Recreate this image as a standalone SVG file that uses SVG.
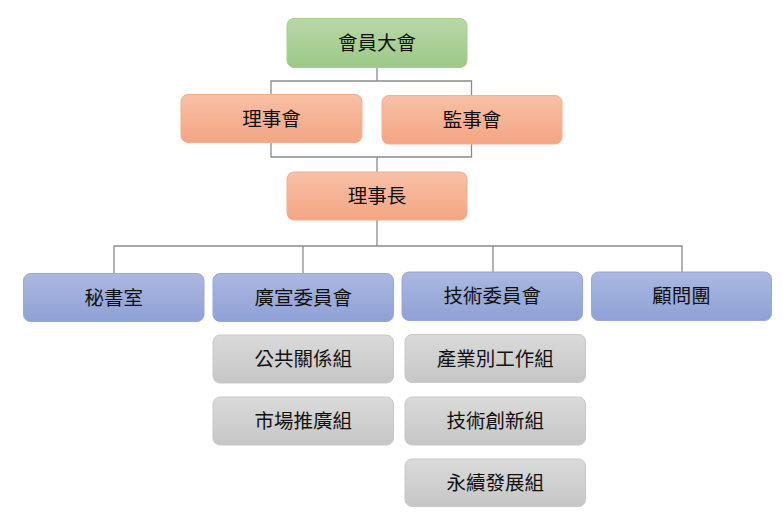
<svg xmlns="http://www.w3.org/2000/svg" width="783" height="519" viewBox="0 0 783 519">
<defs>
<linearGradient id="gGreen" x1="0" y1="0" x2="0" y2="1"><stop offset="0" stop-color="#b7d8a8"/><stop offset="1" stop-color="#9dc887"/></linearGradient>
<linearGradient id="gOrange" x1="0" y1="0" x2="0" y2="1"><stop offset="0" stop-color="#f8c0a6"/><stop offset="1" stop-color="#f4a583"/></linearGradient>
<linearGradient id="gBlue" x1="0" y1="0" x2="0" y2="1"><stop offset="0" stop-color="#abb8e0"/><stop offset="1" stop-color="#8ea1d6"/></linearGradient>
<linearGradient id="gGray" x1="0" y1="0" x2="0" y2="1"><stop offset="0" stop-color="#dadada"/><stop offset="1" stop-color="#c6c6c6"/></linearGradient>
</defs>
<style>
.green{fill:url(#gGreen);stroke:#a8d08f;stroke-width:1}
.orange{fill:url(#gOrange);stroke:#f3ae8c;stroke-width:1}
.blue{fill:url(#gBlue);stroke:#97a8da;stroke-width:1}
.gray{fill:url(#gGray);stroke:#c8c8c8;stroke-width:1}
text{font-family:"Noto Sans CJK TC","Noto Sans CJK SC",sans-serif;font-size:19.5px;fill:#111;text-anchor:middle;dominant-baseline:central}
.conn{fill:none;stroke:#8a8a8a;stroke-width:1.3}
</style>
<rect width="783" height="519" fill="#fff"/>
<g id="connectors" class="conn">
<path d="M377 67 V81 M271 95 V81 H471.5 V96"/>
<path d="M271 143 V157 H471.5 V144 M377 157 V172"/>
<path d="M377 220 V246 M114 273 V246 H682 V272 M303 246 V273 M493 246 V272"/>
</g>
<g id="n1"><rect class="green" x="287" y="18.5" width="180" height="49" rx="7"/><text x="377" y="41.5">會員大會</text></g>
<g id="n2"><rect class="orange" x="181" y="94.5" width="181" height="48" rx="7"/><text x="271.5" y="117">理事會</text></g>
<g id="n3"><rect class="orange" x="382" y="95.5" width="180" height="48.5" rx="7"/><text x="472" y="118.5">監事會</text></g>
<g id="n4"><rect class="orange" x="287" y="172" width="180" height="48" rx="7"/><text x="377" y="194.5">理事長</text></g>
<g id="n5"><rect class="blue" x="23.5" y="273.5" width="180.5" height="48" rx="7"/><text x="113.7" y="296">秘書室</text></g>
<g id="n6"><rect class="blue" x="213" y="273.5" width="180.5" height="48" rx="7"/><text x="303.2" y="296">廣宣委員會</text></g>
<g id="n7"><rect class="blue" x="402" y="272" width="180.5" height="48.5" rx="7"/><text x="492.2" y="294.5">技術委員會</text></g>
<g id="n8"><rect class="blue" x="591.5" y="272" width="180" height="48.5" rx="7"/><text x="681.5" y="294.5">顧問團</text></g>
<g id="n9"><rect class="gray" x="213" y="335" width="180.5" height="48" rx="7"/><text x="303.2" y="357.5">公共關係組</text></g>
<g id="n10"><rect class="gray" x="213" y="397" width="180.5" height="48" rx="7"/><text x="303.2" y="419.5">市場推廣組</text></g>
<g id="n11"><rect class="gray" x="405" y="334.5" width="180.5" height="48" rx="7"/><text x="495.2" y="357">產業別工作組</text></g>
<g id="n12"><rect class="gray" x="405" y="397" width="180.5" height="48" rx="7"/><text x="495.2" y="419.5">技術創新組</text></g>
<g id="n13"><rect class="gray" x="405" y="459" width="180.5" height="47.5" rx="7"/><text x="495.2" y="481.5">永續發展組</text></g>
</svg>
